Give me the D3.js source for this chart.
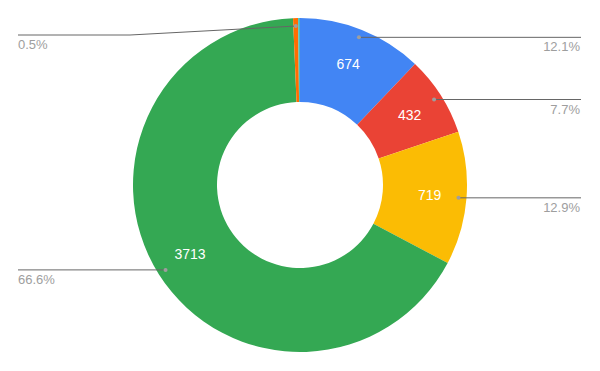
<!DOCTYPE html>
<html>
<head>
<meta charset="utf-8">
<script src="https://cdn.jsdelivr.net/npm/d3@7"></script>
<style>
  html, body { margin: 0; padding: 0; background: #fff; }
  #chart { width: 600px; height: 371px; }
  text { font-family: "Liberation Sans", Arial, sans-serif; }
</style>
</head>
<body>
<div id="chart"></div>
<script>
// slices, clockwise from 12 o'clock
const categories = ['A', 'B', 'C', 'D', 'E', 'F'];
const values = [674, 432, 719, 3713, 27, 10];
const palette = ['#4285f4', '#ea4335', '#fbbc04', '#34a853', '#ff6d01', '#46bdc6'];

const width = 600;
const height = 371;
const cx = 300, cy = 185;
const outerR = 167, innerR = 83;

const svg = d3.select('#chart')
  .append('svg')
  .attr('width', width)
  .attr('height', height);

const g = svg.append('g')
  .attr('transform', `translate(${cx}, ${cy})`);

const total = d3.sum(values);
const pie = d3.pie().sort(null).value(d => d.value);
const arcs = pie(categories.map((c, i) => ({ name: c, value: values[i] })));

const arc = d3.arc().innerRadius(innerR).outerRadius(outerR);
const labelArc = d3.arc().innerRadius(130).outerRadius(130);
const color = d3.scaleOrdinal().domain(categories).range(palette);

g.selectAll('path.slice')
  .data(arcs)
  .join('path')
  .attr('class', 'slice')
  .attr('d', arc)
  .attr('fill', d => color(d.data.name));

// value labels inside the bigger slices
g.selectAll('text.value')
  .data(arcs.filter(d => d.value / total > 0.05))
  .join('text')
  .attr('class', 'value')
  .attr('transform', d => `translate(${labelArc.centroid(d)})`)
  .attr('text-anchor', 'middle')
  .attr('dy', '0.35em')
  .attr('fill', '#fff')
  .style('font-size', '14px')
  .text(d => d.value);

// leader lines + percentage labels
const fmt = d3.format('.1f');
const dotR = outerR - 8;
const labelled = arcs.filter(d => d.value / total >= 0.004);

const lab = svg.append('g');
labelled.forEach(d => {
  const a = (d.startAngle + d.endAngle) / 2;
  const dx = cx + dotR * Math.sin(a);
  const dy = cy - dotR * Math.cos(a);
  const right = Math.sin(a) >= 0 && a < Math.PI;
  const ly = Math.max(dy, 35);
  const endX = right ? 581 : 18;
  let pts;
  if (ly !== dy) {
    pts = [[dx, dy], [130, ly], [endX, ly]];
  } else {
    pts = [[dx, dy], [endX, ly]];
  }
  lab.append('path')
    .attr('d', d3.line()(pts))
    .attr('fill', 'none')
    .attr('stroke', '#666')
    .attr('stroke-width', 1);
  lab.append('circle')
    .attr('cx', dx)
    .attr('cy', dy)
    .attr('r', 2)
    .attr('fill', '#9e9e9e');
  lab.append('text')
    .attr('x', right ? 580 : 18)
    .attr('y', ly + 14)
    .attr('text-anchor', right ? 'end' : 'start')
    .attr('fill', '#9e9e9e')
    .style('font-size', '13px')
    .text(fmt(d.value / total * 100) + '%');
});
</script>
</body>
</html>
